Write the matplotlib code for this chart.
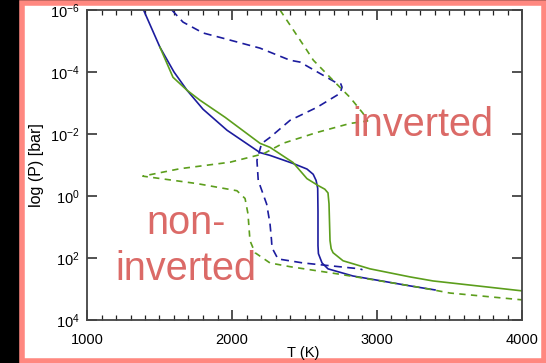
import matplotlib
matplotlib.use("Agg")
import matplotlib.pyplot as plt
from matplotlib.patches import Rectangle
from matplotlib.ticker import FixedLocator, MultipleLocator, FixedFormatter
import numpy as np

# ---- data: temperature (K) and log10 pressure (bar) ----
blue_solid_T = [1390, 1503, 1600, 1690, 1800, 1966, 2193, 2262, 2421, 2517, 2560, 2580, 2591, 2593, 2593, 2596, 2621, 2662, 2834, 3228, 3400]
blue_solid_logP = [-6.0, -4.80, -4.00, -3.41, -2.80, -2.12, -1.40, -1.31, -1.05, -0.87, -0.70, -0.50, -0.25, 0.5, 1.60, 1.86, 2.16, 2.35, 2.58, 2.90, 3.03]

green_solid_T = [1503, 1593, 1690, 1779, 1952, 2193, 2262, 2421, 2517, 2593, 2640, 2662, 2669, 2676, 2684, 2697, 2766, 2952, 3228, 3386, 4000]
green_solid_logP = [-4.80, -3.83, -3.41, -3.09, -2.54, -1.70, -1.57, -1.08, -0.56, -0.34, -0.22, -0.10, 0.25, 1.44, 1.70, 1.83, 2.09, 2.35, 2.61, 2.74, 3.06]

blue_dash_T = [1585, 1662, 1800, 1938, 2193, 2400, 2469, 2724, 2750, 2759, 2745, 2586, 2400, 2262, 2204, 2172, 2181, 2239, 2262, 2272, 2276, 2317, 2490, 2883, 2900]
blue_dash_logP = [-6.0, -5.61, -5.26, -5.09, -4.77, -4.38, -4.32, -3.64, -3.62, -3.51, -3.31, -2.86, -2.44, -1.89, -1.69, -1.15, -0.50, 0.26, 0.89, 1.40, 1.67, 2.03, 2.16, 2.35, 2.38]

green_dash_T = [2331, 2515, 2561, 2697, 2814, 2903, 2935, 2814, 2586, 2352, 2216, 1986, 1641, 1385, 1759, 2034, 2090, 2110, 2124, 2159, 2262, 2400, 2724, 3297, 3503, 4000]
green_dash_logP = [-6.0, -4.71, -4.38, -3.73, -3.18, -2.67, -2.42, -2.34, -2.05, -1.70, -1.36, -1.09, -0.88, -0.64, -0.40, -0.17, 0.08, 0.57, 1.44, 1.83, 2.16, 2.28, 2.51, 2.95, 3.13, 3.35]

x_ticks = [1000, 2000, 3000, 4000]
x_tick_labels = ["1000", "2000", "3000", "4000"]
y_ticks = [1e-6, 1e-4, 1e-2, 1e0, 1e2, 1e4]
y_tick_labels = [r"$10^{-6}$", r"$10^{-4}$", r"$10^{-2}$", r"$10^{0}$", r"$10^{2}$", r"$10^{4}$"]

BLUE = "#1c1c9e"
GREEN = "#5c9e1c"
SALMON = "#d9625f"
PINK = "#ff8880"

plt.rcParams["font.family"] = ["Liberation Sans", "DejaVu Sans"]
plt.rcParams["mathtext.fontset"] = "custom"
plt.rcParams["mathtext.rm"] = "Liberation Sans"
plt.rcParams["mathtext.it"] = "Liberation Sans"

W, H = 546, 363
fig = plt.figure(figsize=(W / 100, H / 100), dpi=100, facecolor="black")
# pink frame with white interior
frame = Rectangle((22 / W, 1 - 361 / H), (544 - 22) / W, (361 - 3) / H,
                  transform=fig.transFigure, facecolor="white",
                  edgecolor=PINK, linewidth=4, zorder=-10)
fig.add_artist(frame)

ax = fig.add_axes([87 / W, 1 - 320 / H, (522 - 87) / W, (320 - 10) / H])
ax.set_zorder(5)
ax.set_facecolor("white")

def P(vals):
    return [10.0 ** v for v in vals]

ax.plot(blue_solid_T, P(blue_solid_logP), color=BLUE, lw=1.2)
ax.plot(green_solid_T, P(green_solid_logP), color=GREEN, lw=1.2)
ax.plot(blue_dash_T, P(blue_dash_logP), color=BLUE, lw=1.2, dashes=(4.8, 3.2))
ax.plot(green_dash_T, P(green_dash_logP), color=GREEN, lw=1.2, dashes=(3.8, 3.2))

ax.set_yscale("log")
ax.set_xlim(1000, 4000)
ax.set_ylim(1e4, 1e-6)

ax.xaxis.set_major_locator(FixedLocator(x_ticks))
ax.xaxis.set_major_formatter(FixedFormatter(x_tick_labels))
ax.xaxis.set_minor_locator(MultipleLocator(100))
ax.yaxis.set_major_locator(FixedLocator(y_ticks))
ax.yaxis.set_major_formatter(FixedFormatter(y_tick_labels))
ax.yaxis.set_minor_locator(FixedLocator([]))

for s in ax.spines.values():
    s.set_color("#444444")
    s.set_linewidth(1.3)

ax.tick_params(which="major", direction="in", length=7, width=1.1, color="#222222",
               top=True, right=True, labelsize=10.5)
ax.tick_params(which="minor", direction="in", length=3.5, width=0.9, color="#222222",
               top=True, right=True)
ax.tick_params(axis="x", pad=9)
ax.tick_params(axis="y", pad=5)

ax.set_xlabel("T (K)", fontsize=10.5)
ax.set_ylabel("log (P) [bar]", fontsize=11.5)
ax.xaxis.set_label_coords(0.497, -0.085, transform=ax.transAxes)
ax.xaxis.label.set_va("top")
ax.yaxis.set_label_coords(-0.10, 0.5, transform=ax.transAxes)

tfont = dict(color=SALMON, fontsize=28.5, family=["Liberation Sans"], fontweight="normal", alpha=0.95)
ax.text(3314, 10 ** -1.95, "inverted", ha="center", va="baseline", zorder=5, **tfont)
ax.text(1683, 10 ** 1.22, "non-", ha="center", va="baseline", zorder=5, **tfont)
ax.text(1680, 10 ** 2.72, "inverted", ha="center", va="baseline", zorder=5, **tfont)

fig.savefig("out.png", dpi=100, facecolor="black")
